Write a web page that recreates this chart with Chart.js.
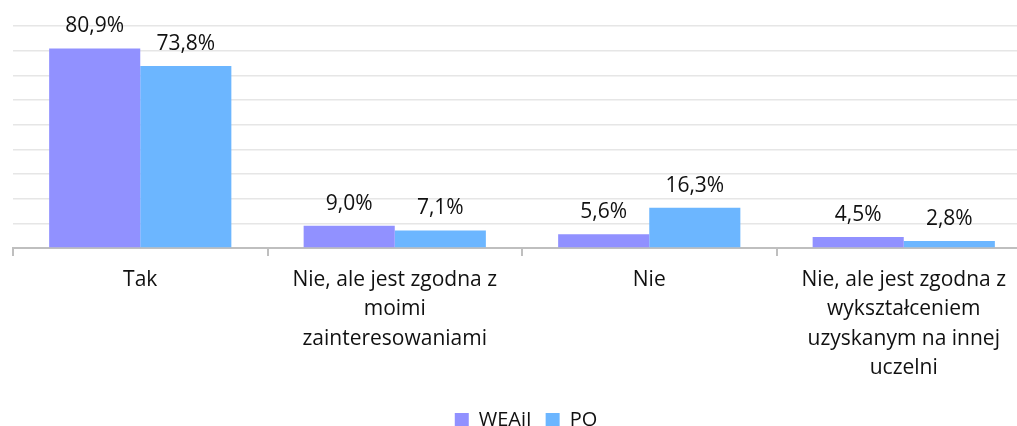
<!DOCTYPE html>
<html><head><meta charset="utf-8">
<script src="https://cdn.jsdelivr.net/npm/chart.js@4/dist/chart.umd.min.js"></script>
<style>html,body{margin:0;padding:0;background:#fff;overflow:hidden;width:1017px;height:426px}#w{width:1031px;height:426px}</style>
</head><body><div id="w"><canvas id="c"></canvas></div>
<script>
const categories = [
  'Tak',
  ['Nie, ale jest zgodna z', 'moimi', 'zainteresowaniami'],
  'Nie',
  ['Nie, ale jest zgodna z', 'wykształceniem', 'uzyskanym na innej', 'uczelni']
];
const seriesNames = ['WEAiI', 'PO'];
const weaiiValues = [80.9, 9.0, 5.6, 4.5];
const poValues = [73.8, 7.1, 16.3, 2.8];
const colors = ['#9191FF', '#6CB6FF'];
const yTicks = {min: 0, max: 90, step: 10};

const FONT = '"Open Sans", "Noto Sans", sans-serif';

const labelPlugin = {
  id: 'valLabels',
  afterLayout(chart) {
    if (chart.legend) { chart.legend.left += 4; chart.legend.right += 4; }
  },
  afterDatasetsDraw(chart) {
    const ctx = chart.ctx;
    ctx.save();
    ctx.font = '21px ' + FONT;
    ctx.fillStyle = '#111';
    ctx.textAlign = 'center';
    ctx.textBaseline = 'middle';
    chart.data.datasets.forEach((ds, i) => {
      chart.getDatasetMeta(i).data.forEach((el, j) => {
        const v = ds.data[j];
        ctx.fillText(v.toFixed(1).replace('.', ',') + '%', el.x, el.y - 22);
      });
    });
    ctx.restore();
  }
};

new Chart(document.getElementById('c'), {
  type: 'bar',
  data: {
    labels: categories,
    datasets: [
      {label: seriesNames[0], data: weaiiValues, backgroundColor: colors[0]},
      {label: seriesNames[1], data: poValues, backgroundColor: colors[1]}
    ]
  },
  options: {
    responsive: true,
    maintainAspectRatio: false,
    animation: false,
    layout: {padding: {left: 13, right: 0, top: 26, bottom: -14}},
    datasets: {bar: {categoryPercentage: 0.716, barPercentage: 1.0}},
    plugins: {
      legend: {
        position: 'bottom',
        labels: {boxWidth: 14, boxHeight: 14, font: {size: 20, family: FONT}, color: '#111', padding: 14}
      },
      tooltip: {enabled: false}
    },
    scales: {
      x: {
        afterFit(scale) { scale.height = 148; },
        grid: {display: true, drawOnChartArea: false, drawTicks: true, tickLength: 8, color: '#bfbfbf', lineWidth: 2, offset: true},
        border: {display: true, color: '#bfbfbf', width: 2},
        ticks: {font: {size: 21, family: FONT, lineHeight: 1.405}, color: '#111', padding: 9, maxRotation: 0, autoSkip: false}
      },
      y: {
        min: yTicks.min, max: yTicks.max,
        ticks: {display: false, stepSize: yTicks.step},
        grid: {color: '#e6e6e6', lineWidth: 1.5, drawTicks: false},
        border: {display: false}
      }
    }
  },
  plugins: [labelPlugin]
});
</script>
</body></html>
